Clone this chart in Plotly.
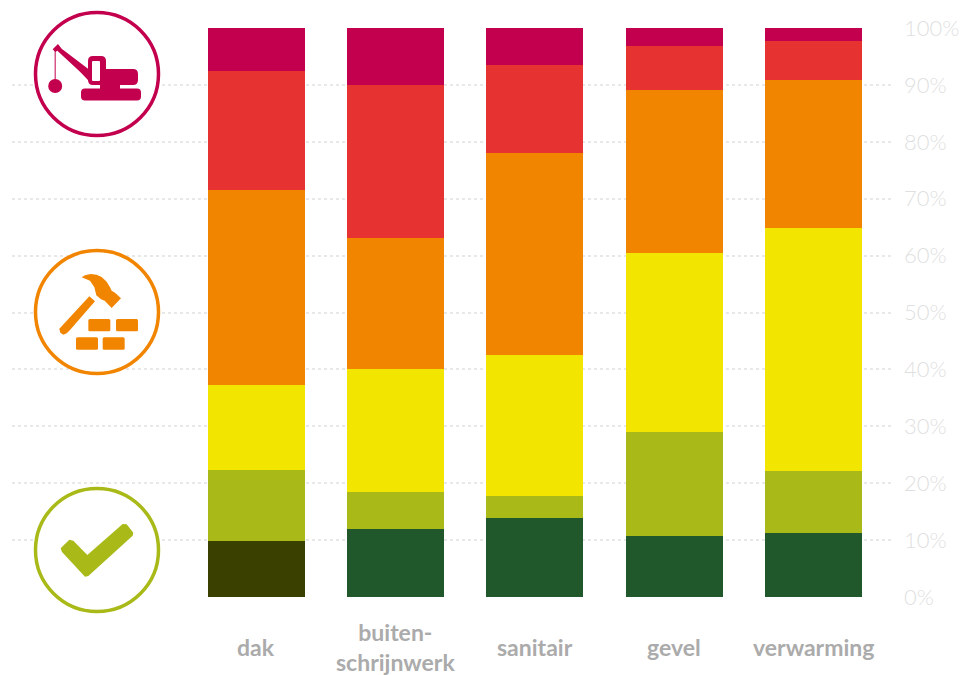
import plotly.graph_objects as go

categories = ["dak", "buiten-<br>schrijnwerk", "sanitair", "gevel", "verwarming"]
s_dark = [9.9, 11.9, 13.9, 10.7, 11.2]
s_olive = [12.4, 6.5, 3.9, 18.3, 10.9]
s_yellow = [15.0, 21.6, 24.8, 31.5, 42.7]
s_orange = [34.2, 23.1, 35.5, 28.6, 26.0]
s_red = [20.9, 26.8, 15.4, 7.7, 6.9]
s_magenta = [7.7, 10.1, 6.5, 3.2, 2.3]
dark_colors = ["#394000", "#20572b", "#20572b", "#20572b", "#20572b"]
tick_vals = [0, 10, 20, 30, 40, 50, 60, 70, 80, 90, 100]
tick_text = ["0%", "10%", "20%", "30%", "40%", "50%", "60%", "70%", "80%", "90%", "100%"]

MAG, RED, ORA, YEL, OLI = "#c3004d", "#e73232", "#f28500", "#f2e500", "#a9ba18"
W, H = 962, 675
L, R, T, B = 12, 892, 28, 597

fig = go.Figure()
idx = list(range(5))
for vals, col in [(s_dark, dark_colors), (s_olive, OLI), (s_yellow, YEL),
                  (s_orange, ORA), (s_red, RED), (s_magenta, MAG)]:
    fig.add_bar(x=idx, y=vals, marker=dict(color=col, line=dict(width=0)), hoverinfo="skip")


def px(x, y):
    return f"{(x - L) / (R - L):.5f},{(B - y) / (B - T):.5f}"


def poly(points, ox=0, oy=0, scale=1 / 3):
    return "M" + "L".join(px(ox + a * scale, oy + b * scale) for a, b in points) + "Z"


def rrect(x0, y0, x1, y1, r):
    return ("M" + px(x0 + r, y0) + "L" + px(x1 - r, y0) + "Q" + px(x1, y0) + " " + px(x1, y0 + r)
            + "L" + px(x1, y1 - r) + "Q" + px(x1, y1) + " " + px(x1 - r, y1)
            + "L" + px(x0 + r, y1) + "Q" + px(x0, y1) + " " + px(x0, y1 - r)
            + "L" + px(x0, y0 + r) + "Q" + px(x0, y0) + " " + px(x0 + r, y0) + "Z")


shapes = []


def path(d, col, lw=0):
    shapes.append(dict(type="path", xref="paper", yref="paper", path=d, fillcolor=col,
                       line=dict(color=col, width=lw), layer="above"))


def circle(cx, cy, r, fill, col, lw):
    shapes.append(dict(type="circle", xref="paper", yref="paper",
                       x0=(cx - r - L) / (R - L), x1=(cx + r - L) / (R - L),
                       y0=(B - cy - r) / (B - T), y1=(B - cy + r) / (B - T),
                       fillcolor=fill, line=dict(color=col, width=lw), layer="above"))


# icon badges
circle(97, 74, 61.5, "white", MAG, 3.5)
circle(97, 312, 61.5, "white", ORA, 3.5)
circle(97, 550, 61.5, "white", OLI, 3.5)

# crane
circle(55.2, 86, 7, MAG, MAG, 0)
path(poly([(164, 150), (167, 150), (167, 245), (164, 245)]), MAG)
path(poly([(158, 148), (174, 132), (185, 146), (266, 208), (266, 242), (240, 215), (172, 152), (166, 156)]), MAG)
path(rrect(88, 56, 106, 85, 5), MAG)
path(rrect(100, 69, 138, 85, 5), MAG)
path(poly([(300, 250), (360, 250), (360, 270), (300, 270)]), MAG)
path(rrect(92, 61, 100, 81, 1), "white")
path(rrect(81, 88.5, 141, 100.5, 4), MAG)

# hammer and bricks
path(poly([(178, 296), (268, 199), (285, 214), (210, 300), (200, 310), (190, 314), (181, 308)], 0, 230), ORA)
path(poly([(245, 142), (255, 136), (272, 132), (290, 134), (305, 141), (320, 155), (330, 172),
           (335, 182), (345, 188), (363, 205), (335, 234), (314, 212), (303, 208), (289, 196),
           (283, 172), (270, 152)], 0, 230), ORA)
for bx0, by0 in [(265, 267), (348, 267), (228, 322), (308, 322)]:
    path(rrect(bx0 / 3, 230 + by0 / 3, (bx0 + 66) / 3, 230 + (by0 + 37) / 3, 1.5), ORA)

# check
path(poly([(182, 235), (208, 209), (220, 212), (262, 255), (368, 162), (380, 163), (400, 188),
           (398, 197), (265, 318), (255, 320), (186, 246)], 0, 470), OLI)

annotations = [
    dict(x=i, xref="x", y=(B - 646.5) / (B - T), yref="paper", text=c, showarrow=False,
         yanchor="middle", xanchor="center", font=dict(family="Lato", size=23, color="#ababab", weight=700))
    for i, c in enumerate(categories)
]

fig.update_layout(
    barmode="stack", bargap=0.304, width=W, height=H, showlegend=False,
    paper_bgcolor="white", plot_bgcolor="white",
    margin=dict(l=L, r=W - R, t=T, b=H - B, autoexpand=False), shapes=shapes, annotations=annotations,
    xaxis=dict(range=[-1.752, 4.564], showticklabels=False, showgrid=False, zeroline=False,
               showline=False, ticks="", automargin=False),
    yaxis=dict(range=[0, 100], side="right", tickvals=tick_vals, ticktext=tick_text, automargin=False,
               tickfont=dict(family="Lato", size=22, color="#dfdfdf", weight=300),
               showgrid=True, gridcolor="#e8e8e8", griddash="3px,3px", gridwidth=2,
               zeroline=False, showline=False, ticks="", ticklabelstandoff=11),
)
fig.write_html("out.html", config=dict(displayModeBar=False),
               post_script="document.body.style.margin='0';document.documentElement.style.overflow='hidden';")
